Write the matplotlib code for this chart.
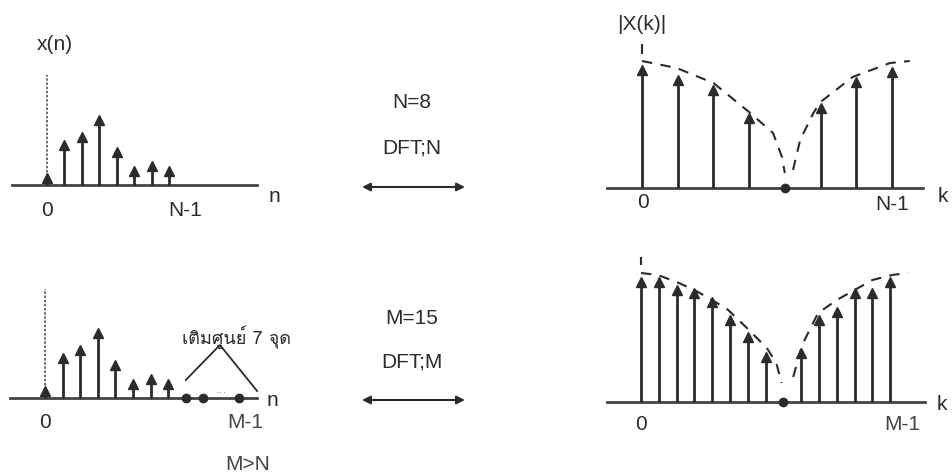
import matplotlib
matplotlib.use("Agg")
import matplotlib.pyplot as plt
from matplotlib import font_manager
from matplotlib.ft2font import FT2Font
import numpy as np

# find a family that has Thai glyphs, if any is installed
thai_family = None
for fe in font_manager.fontManager.ttflist:
    try:
        if 0x0E40 in FT2Font(fe.fname).get_charmap():
            thai_family = fe.name
            break
    except Exception:
        pass

plt.rcParams['font.family'] = ['Liberation Sans', 'DejaVu Sans']

W, H = 953, 476
INK = '#2b2b2b'
FS = 15

# x(n), N = 8
xn = [12, 45, 53, 70, 38, 19, 24, 19]
zero_pad_n = [8, 9, 11]

# |X(k)| for N = 8 and M = 15
Xk_N = [123, 113, 103, 75, 0, 85, 111, 121]
Xk_M = [125, 125, 117, 114, 105, 87, 70, 50, 0, 54, 87, 95, 114, 114, 125]

# dashed envelopes
envN_k = [0, 0.97, 2.0, 3.0, 3.67, 3.92, 4.0]
envN_v = [127, 120, 105, 76, 55, 31, 15]
envN_k2 = [4.23, 4.43, 4.8, 5.0, 5.9, 6.95, 7.5]
envN_v2 = [18, 48, 75, 86, 111, 125, 127]

envM_k = [0, 0.95, 2.0, 3.0, 4.0, 4.9, 5.95, 7.07, 7.6, 7.9]
envM_v = [129, 127, 120, 112, 102, 92, 74, 54, 39, 19]
envM_k2 = [8.55, 9.05, 9.95, 11.0, 12.0, 13.0, 14.1, 15.0]
envM_v2 = [25, 57, 89, 102, 112, 122, 127, 129]

fig = plt.figure(figsize=(W / 100, H / 100), dpi=100)


def panel(left, right, top, bottom, x0, base, dx):
    # axes whose data units are sample index (x) and pixels (y)
    ax = fig.add_axes([left / W, 1 - bottom / H, (right - left) / W, (bottom - top) / H])
    ax.set_xlim((left - x0) / dx, (right - x0) / dx)
    ax.set_ylim(base - bottom, base - top)
    ax.axis('off')
    return ax


def stems(ax, vals, start=0):
    for i, v in enumerate(vals):
        k = start + i
        if v == 0:
            ax.plot(k, 0, 'o', color=INK, ms=6, zorder=4)
            continue
        ax.vlines(k, 0, v - 3, color=INK, lw=2)
        ax.plot(k, v - 5, '^', color=INK, ms=7, mec=INK, zorder=4)


# ---- top left: x(n)
ax1 = panel(0, 300, 20, 230, 47, 185, 17.5)
ax1.plot([-2, 12], [0, 0], color='#444', lw=2)
ax1.vlines(0, 0, 110, color='#555', lw=1.2, linestyles=(0, (1.5, 1)))
stems(ax1, xn)
ax1.text(0.46, 140, 'x(n)', fontsize=FS, ha='center', va='center', color=INK)
ax1.text(0, -25, '0', fontsize=FS, ha='center', va='center', color=INK)
ax1.text(7.9, -25, 'N-1', fontsize=FS, ha='center', va='center', color=INK)
ax1.text(13, -12, 'n', fontsize=FS, ha='center', va='center', color=INK)

# ---- bottom left: zero padded x(n)
ax2 = panel(0, 330, 240, 476, 45, 398, 17.6)
ax2.plot([-2, 12.05], [0, 0], color='#444', lw=2)
ax2.vlines(0, 0, 109, color='#555', lw=1.2, linestyles=(0, (1.5, 1)))
stems(ax2, xn)
ax2.plot(zero_pad_n, [0] * len(zero_pad_n), 'o', color=INK, ms=6, zorder=4)
ax2.text(10.0, 5, '···', fontsize=8, ha='center', va='center', color='#777')
ax2.plot([8.0, 9.94, 12.05], [18, 53, 7], color=INK, lw=1.3)
thai_kw = {'family': [thai_family, 'DejaVu Sans']} if thai_family else {}
ax2.text(10.9, 61, 'เติมศูนย์ 7 จุด', fontsize=13, ha='center', va='center',
         color=INK, **thai_kw)
ax2.text(0, -25, '0', fontsize=FS, ha='center', va='center', color=INK)
ax2.text(11.36, -25, 'M-1', fontsize=FS, ha='center', va='center', color='#444')
ax2.text(12.9, -2, 'n', fontsize=FS, ha='center', va='center', color=INK)
ax2.text(11.5, -67, 'M>N', fontsize=FS, ha='center', va='center', color='#444')

# ---- top right: |X(k)|, N points
ax3 = panel(590, 953, 0, 230, 642, 188, 35.7)
ax3.plot([-0.98, 7.87], [0, 0], color='#444', lw=2)
ax3.vlines(0, 134, 144, color=INK, lw=1.5)
ax3.plot(envN_k, envN_v, color=INK, lw=1.5, ls=(0, (5, 4)))
ax3.plot(envN_k2, envN_v2, color=INK, lw=1.5, ls=(0, (5, 4)))
stems(ax3, Xk_N)
ax3.text(0, 163, '|X(k)|', fontsize=FS, ha='center', va='center', color=INK)
ax3.text(0.03, -15, '0', fontsize=FS, ha='center', va='center', color=INK)
ax3.text(7, -17, 'N-1', fontsize=FS, ha='center', va='center', color=INK)
ax3.text(8.43, -8, 'k', fontsize=FS, ha='center', va='center', color=INK)

# ---- bottom right: |X(k)|, M points
ax4 = panel(590, 953, 240, 476, 641, 402, 17.8)
ax4.plot([-1.9, 15.96], [0, 0], color='#444', lw=2)
ax4.vlines(0, 137, 145, color=INK, lw=1.5)
ax4.plot(envM_k, envM_v, color=INK, lw=1.5, ls=(0, (5, 4)))
ax4.plot(envM_k2, envM_v2, color=INK, lw=1.5, ls=(0, (5, 4)))
stems(ax4, Xk_M)
ax4.text(0, -23, '0', fontsize=FS, ha='center', va='center', color=INK)
ax4.text(14.66, -23, 'M-1', fontsize=FS, ha='center', va='center', color='#444')
ax4.text(16.9, -3, 'k', fontsize=FS, ha='center', va='center', color=INK)

# ---- middle: DFT labels and double arrows
axm = fig.add_axes([0, 0, 1, 1])
axm.set_xlim(0, W)
axm.set_ylim(H, 0)
axm.axis('off')
axm.patch.set_alpha(0)
for txt, y in [('N=8', 102), ('DFT;N', 148), ('M=15', 318), ('DFT;M', 362)]:
    axm.text(412, y, txt, fontsize=FS, ha='center', va='center', color=INK)
for y in [187, 400]:
    axm.annotate('', xy=(465, y), xytext=(362, y),
                 arrowprops=dict(arrowstyle='<|-|>', color=INK, lw=1.5,
                                 mutation_scale=12, shrinkA=0, shrinkB=0))

fig.savefig('out.png', dpi=100, facecolor='white')
